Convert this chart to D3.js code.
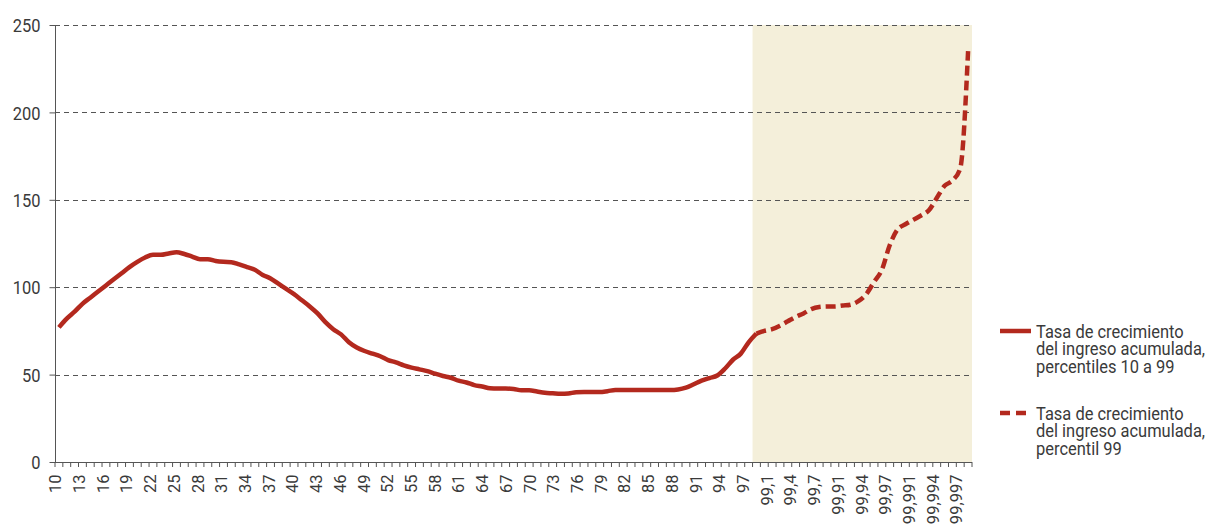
<!DOCTYPE html>
<html><head><meta charset="utf-8">
<script src="https://cdn.jsdelivr.net/npm/d3@7"></script>
<style>
html,body{margin:0;padding:0;background:#fff;}
svg{display:block;}
text{font-family:Roboto,"Noto Sans",sans-serif;fill:#3a3a3a;}
</style></head>
<body>
<svg id="chart" width="1221" height="527"></svg>
<script>
// Categories: percentiles 10..99, then top-percentile subdivisions
const basePercentiles = d3.range(10, 100).map(String);
const topTenths = ["99,1","99,2","99,3","99,4","99,5","99,6","99,7","99,8","99,9"];
const topHundredths = ["99,91","99,92","99,93","99,94","99,95","99,96","99,97","99,98","99,99"];
const topThousandths = ["99,991","99,992","99,993","99,994","99,995","99,996","99,997","99,998","99,999"];
const categories = basePercentiles.concat(topTenths, topHundredths, topThousandths);

// Series 1: percentiles 10 to 99 (solid)
const growth10to99 = [
  77, 82, 86, 90.5, 94, 97.5, 101, 104.5, 108, 111.5,
  114.5, 117, 118.5, 118.5, 119.3, 120, 119, 117.5, 116, 116,
  115, 114.5, 114.3, 113, 111.5, 110, 107, 105, 102, 99,
  96, 92.5, 89, 85, 80, 76, 73, 68.5, 65.5, 63.5,
  62, 60.5, 58.3, 57, 55.3, 54, 53, 52, 50.5, 49.2,
  48.2, 46.5, 45.5, 44, 43.2, 42.2, 42, 42, 41.8, 41,
  41, 40.3, 39.6, 39.3, 39, 39.2, 39.9, 40, 40, 40,
  40.5, 41.2, 41.2, 41.2, 41.2, 41.2, 41.2, 41.2, 41.2, 41.5,
  42.5, 44.5, 46.5, 48, 49.5, 53.5, 58.5, 62, 68.5, 73.5
];
// Series 2: top percentile 99 (dashed), starting at percentile 99
const growthTop1 = [
  73.5,
  75, 76, 78, 80.5, 83, 85, 87.5, 88.7, 89,
  89, 89.5, 90, 92, 96, 103, 110, 124, 133,
  136, 138.5, 141, 144, 151, 158, 161, 168, 235
];
const yTicks = [0, 50, 100, 150, 200, 250];
const shadeFrom = "99";
const legendLabels = [
  ["Tasa de crecimiento", "del ingreso acumulada,", "percentiles 10 a 99"],
  ["Tasa de crecimiento", "del ingreso acumulada,", "percentil 99"]
];

const svg = d3.select("#chart");
const m = {left: 55, right: 972, top: 25, bottom: 462};
const color = "#b3291e";
const squeeze = 0.89; // condensed look

const x = d3.scaleBand().domain(categories).range([m.left, m.right]).padding(0);
const xLabel = d3.scalePoint().domain(categories).range([m.left, m.right]);
const y = d3.scaleLinear().domain([0, 250]).range([m.bottom, m.top]);

// shaded region
svg.append("rect")
  .attr("x", x(shadeFrom)).attr("y", y(250))
  .attr("width", m.right - x(shadeFrom)).attr("height", y(0) - y(250))
  .attr("fill", "#f4efda");

// grid lines
svg.append("g").selectAll("line").data(yTicks.filter(d => d > 0)).join("line")
  .attr("x1", m.left).attr("x2", m.right)
  .attr("y1", d => Math.round(y(d)) + 0.5).attr("y2", d => Math.round(y(d)) + 0.5)
  .attr("stroke", "#555").attr("stroke-width", 1).attr("stroke-dasharray", "5,4");

// y axis
const yAxis = d3.axisLeft(y).tickValues(yTicks).tickSize(6).tickPadding(0);
const gy = svg.append("g").attr("transform", `translate(${m.left + 0.5},0)`).call(yAxis);
gy.select(".domain").attr("stroke", "#555").attr("d", `M0,${m.top}V${m.bottom + 0.5}`);
gy.selectAll(".tick line").attr("stroke", "#555");
gy.selectAll(".tick text").attr("font-size", 18.5).attr("font-family", null).attr("fill", "#3a3a3a")
  .attr("x", 0).attr("dy", "0.36em")
  .attr("transform", `translate(-15,0) scale(${squeeze},1)`);

// x axis line + labels
const xAxis = d3.axisBottom(xLabel).tickSize(0).tickFormat(d => d);
const gx = svg.append("g").attr("transform", `translate(0,${m.bottom + 0.5})`).call(xAxis);
gx.select(".domain").attr("stroke", "#555").attr("stroke-width", 1.2).attr("d", `M${m.left},0H${m.right}`);
gx.selectAll(".tick text")
  .attr("font-size", 16.5).attr("font-family", null).attr("fill", "#3a3a3a")
  .attr("transform", "rotate(-90)")
  .attr("text-anchor", "end").attr("x", -12).attr("y", 0).attr("dy", "0.35em")
  .style("display", (d, i) => i % 3 === 0 ? null : "none");
// tick marks at category boundaries
const bounds = categories.map(c => x(c)).concat([m.right]);
svg.append("g").selectAll("line").data(bounds).join("line")
  .attr("x1", d => d).attr("x2", d => d)
  .attr("y1", m.bottom).attr("y2", m.bottom + 5)
  .attr("stroke", "#555").attr("stroke-width", 1);

const cx = d => x(d) + x.bandwidth() / 2;

// solid line
const solidData = growth10to99.map((v, i) => ({c: categories[i], v}));
const line = d3.line().x(d => cx(d.c)).y(d => y(d.v)).curve(d3.curveMonotoneX);
svg.append("path").datum(solidData).attr("d", line)
  .attr("fill", "none").attr("stroke", color).attr("stroke-width", 4.5)
  .attr("stroke-linejoin", "round").attr("stroke-linecap", "butt");

// dashed line
const startIdx = categories.indexOf("99");
const dashData = growthTop1.map((v, i) => ({c: categories[startIdx + i], v}));
svg.append("path").datum(dashData).attr("d", line)
  .attr("fill", "none").attr("stroke", color).attr("stroke-width", 4.5)
  .attr("stroke-dasharray", "10,5").attr("stroke-linecap", "butt");

// legend
const lg = svg.append("g");
const legendY = [331, 413];
legendLabels.forEach((lines, k) => {
  const ly = legendY[k];
  lg.append("line").attr("x1", 1000).attr("x2", k === 0 ? 1031 : 1027)
    .attr("y1", ly).attr("y2", ly)
    .attr("stroke", color).attr("stroke-width", 4.5)
    .attr("stroke-dasharray", k === 0 ? null : "10,6");
  lines.forEach((t, j) => {
    lg.append("text")
      .attr("transform", `translate(1036,${ly + 6.5 + j * 17.8}) scale(${squeeze},1)`)
      .attr("font-size", 18.5).text(t);
  });
});
</script>
</body></html>
